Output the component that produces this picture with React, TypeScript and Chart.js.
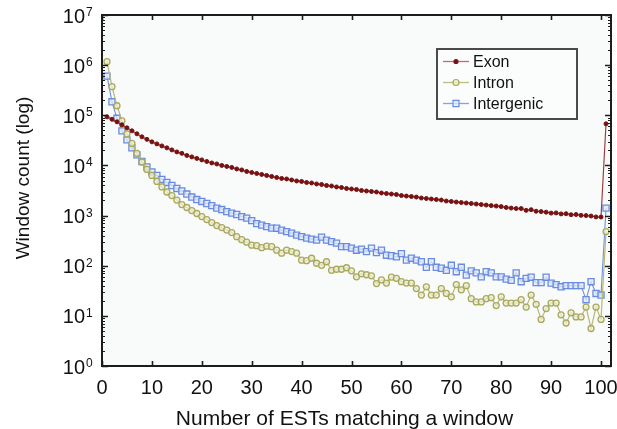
import React, { useEffect, useRef } from "react";
import { Chart, registerables } from "chart.js";

Chart.register(...registerables);

const estCounts = [
  1, 2, 3, 4, 5, 6, 7, 8, 9, 10,
  11, 12, 13, 14, 15, 16, 17, 18, 19, 20,
  21, 22, 23, 24, 25, 26, 27, 28, 29, 30,
  31, 32, 33, 34, 35, 36, 37, 38, 39, 40,
  41, 42, 43, 44, 45, 46, 47, 48, 49, 50,
  51, 52, 53, 54, 55, 56, 57, 58, 59, 60,
  61, 62, 63, 64, 65, 66, 67, 68, 69, 70,
  71, 72, 73, 74, 75, 76, 77, 78, 79, 80,
  81, 82, 83, 84, 85, 86, 87, 88, 89, 90,
  91, 92, 93, 94, 95, 96, 97, 98, 99, 100,
  101,
];

const exonCounts = [
  93000, 83200, 74100, 64600, 56200, 49000, 42700, 37200, 33100, 29500,
  26900, 24500, 22400, 20400, 18600, 17400, 15800, 14800, 13800, 12900,
  12000, 11200, 10700, 10000, 9550, 9120, 8510, 8130, 7590, 7240,
  6920, 6610, 6310, 6030, 5750, 5500, 5370, 5130, 4900, 4790,
  4570, 4470, 4270, 4170, 3980, 3890, 3720, 3630, 3470, 3390,
  3310, 3160, 3090, 3020, 2950, 2820, 2750, 2690, 2630, 2510,
  2450, 2400, 2340, 2240, 2190, 2140, 2090, 2040, 1950, 1910,
  1860, 1820, 1780, 1740, 1700, 1660, 1620, 1580, 1550, 1510,
  1450, 1410, 1380, 1380, 1270, 1310, 1220, 1200, 1170, 1120,
  1130, 1080, 1090, 1040, 1050, 1010, 1000, 980, 940, 935,
  67600,
];

const intronCounts = [
  1170000, 372000, 155000, 77600, 42700, 27500, 17400, 11700, 8320, 6310,
  4790, 3720, 2950, 2510, 2040, 1660, 1450, 1260, 1100, 955,
  832, 724, 631, 575, 513, 457, 380, 331, 295, 257,
  251, 229, 245, 240, 204, 178, 204, 191, 178, 129,
  126, 141, 112, 102, 120, 81, 85, 85, 91, 79,
  60, 69, 66, 63, 44, 52, 45, 59, 56, 48,
  45, 45, 35, 26, 38, 26, 26, 35, 28, 24,
  42, 33, 40, 22, 19, 19, 22, 23, 16, 24,
  18, 18, 18, 21, 15, 26, 17, 8.5, 14, 18,
  18, 10.5, 7.2, 11.5, 9.5, 9.5, 15, 5.6, 15, 8.5,
  479,
];

const intergenicCounts = [
  603000, 186000, 87100, 49000, 32400, 22400, 16200, 12000, 9330, 7410,
  6310, 5250, 4570, 3980, 3470, 3090, 2690, 2340, 2090, 1910,
  1740, 1580, 1410, 1320, 1200, 1120, 1050, 955, 891, 794,
  692, 646, 603, 562, 560, 513, 479, 447, 407, 380,
  355, 339, 324, 372, 324, 302, 282, 240, 240, 224,
  204, 214, 191, 224, 182, 204, 162, 158, 151, 174,
  129, 141, 129, 120, 93, 120, 93, 89, 81, 102,
  76, 93, 65, 79, 72, 60, 76, 72, 60, 60,
  54, 51, 72, 48, 56, 59, 46, 46, 59, 45,
  42, 38, 40, 40, 40, 40, 21, 48, 28, 26,
  1410,
];

const seriesNames = ["Exon", "Intron", "Intergenic"];
const xTickValues = [0, 10, 20, 30, 40, 50, 60, 70, 80, 90, 100];
const yTickExponents = [0, 1, 2, 3, 4, 5, 6, 7];
const xAxisTitle = "Number of ESTs matching a window";
const yAxisTitle = "Window count (log)";

const FONT = '"Liberation Sans", Arial, Helvetica, sans-serif';

const framePlugin = {
  id: "frameAndLabels",
  beforeDatasetsDraw(chart: any) {
    const { ctx, chartArea } = chart;
    const { left, right, top, bottom } = chartArea;
    ctx.save();
    ctx.fillStyle = "#f9fbfb";
    ctx.fillRect(left, top, right - left, bottom - top);
    ctx.restore();
  },
  afterDatasetsDraw(chart: any) {
    const { ctx, chartArea, scales } = chart;
    const { left, right, top, bottom } = chartArea;
    const xs = scales.x;
    const ys = scales.y;
    ctx.save();
    ctx.strokeStyle = "#1c1c1c";
    ctx.lineWidth = 2;
    ctx.strokeRect(left, top, right - left, bottom - top);

    ctx.lineWidth = 1.6;
    ctx.beginPath();
    for (const t of xTickValues) {
      const px = Math.round(xs.getPixelForValue(t)) + 0.5;
      ctx.moveTo(px, bottom);
      ctx.lineTo(px, bottom - 5);
      ctx.moveTo(px, top);
      ctx.lineTo(px, top + 5);
    }
    for (const e of yTickExponents) {
      const py = Math.round(ys.getPixelForValue(Math.pow(10, e))) + 0.5;
      ctx.moveTo(left, py);
      ctx.lineTo(left + 6, py);
      ctx.moveTo(right, py);
      ctx.lineTo(right - 6, py);
    }
    ctx.stroke();
    ctx.lineWidth = 1;
    ctx.beginPath();
    for (const e of yTickExponents.slice(0, -1)) {
      for (let m = 2; m <= 9; m++) {
        const py = Math.round(ys.getPixelForValue(m * Math.pow(10, e))) + 0.5;
        ctx.moveTo(left, py);
        ctx.lineTo(left + 3, py);
        ctx.moveTo(right, py);
        ctx.lineTo(right - 3, py);
      }
    }
    ctx.stroke();

    // x tick labels
    ctx.fillStyle = "#111";
    ctx.font = `20px ${FONT}`;
    ctx.textAlign = "center";
    ctx.textBaseline = "alphabetic";
    for (const t of xTickValues) {
      ctx.fillText(String(t), xs.getPixelForValue(t), bottom + 28);
    }
    // y tick labels: 10 with superscript exponent
    for (const e of yTickExponents) {
      const py = ys.getPixelForValue(Math.pow(10, e));
      ctx.font = `20px ${FONT}`;
      ctx.textAlign = "right";
      ctx.fillText("10", left - 17, py + 7.5);
      ctx.font = `12px ${FONT}`;
      ctx.textAlign = "left";
      ctx.fillText(String(e), left - 16, py + 1);
    }
    // axis titles
    ctx.font = `21px ${FONT}`;
    ctx.textAlign = "center";
    ctx.fillText(xAxisTitle, (left + right) / 2 - 12, bottom + 59);
    ctx.save();
    ctx.translate(29, 178);
    ctx.rotate(-Math.PI / 2);
    ctx.font = `19px ${FONT}`;
    ctx.fillText(yAxisTitle, 0, 0);
    ctx.restore();
    ctx.restore();
  },
  afterDraw(chart: any) {
    const { ctx, chartArea } = chart;
    const bx = chartArea.left + 335;
    const by = chartArea.top + 34;
    const bw = 140;
    const bh = 70;
    ctx.save();
    ctx.fillStyle = "#fbfcfc";
    ctx.fillRect(bx, by, bw, bh);
    ctx.strokeStyle = "#4a4a4a";
    ctx.lineWidth = 2;
    ctx.strokeRect(bx, by, bw, bh);
    chart.data.datasets.forEach((ds: any, i: number) => {
      const ry = by + 12.5 + i * 21;
      ctx.strokeStyle = ds.legendLine;
      ctx.lineWidth = 1.3;
      ctx.beginPath();
      ctx.moveTo(bx + 6, ry);
      ctx.lineTo(bx + 32, ry);
      ctx.stroke();
      const cx = bx + 19;
      ctx.fillStyle = ds.pointBackgroundColor;
      ctx.strokeStyle = ds.pointBorderColor;
      ctx.lineWidth = 1.2;
      ctx.beginPath();
      if (ds.pointStyle === "rect") {
        const s = ds.pointRadius * Math.SQRT1_2;
        ctx.rect(cx - s, ry - s, 2 * s, 2 * s);
      } else {
        ctx.arc(cx, ry, ds.pointRadius, 0, Math.PI * 2);
      }
      ctx.fill();
      ctx.stroke();
      ctx.fillStyle = "#111";
      ctx.font = `16px ${FONT}`;
      ctx.textAlign = "left";
      ctx.textBaseline = "middle";
      ctx.fillText(ds.label, bx + 36, ry + 1);
    });
    ctx.restore();
  },
};

export default function App() {
  const canvasRef = useRef<HTMLCanvasElement | null>(null);

  useEffect(() => {
    document.body.style.margin = "0";
    const canvas = canvasRef.current;
    if (!canvas) return;
    const toPoints = (vals: number[]) => estCounts.map((x, i) => ({ x, y: vals[i] }));
    const chart = new Chart(canvas, {
      type: "line",
      data: {
        datasets: [
          {
            label: seriesNames[0],
            data: toPoints(exonCounts),
            borderColor: "#9c4040",
            borderWidth: 1.2,
            pointRadius: 2,
            pointBorderWidth: 1,
            pointBackgroundColor: "#781212",
            pointBorderColor: "#781212",
            pointStyle: "circle",
            legendLine: "#b87070",
          } as any,
          {
            label: seriesNames[1],
            data: toPoints(intronCounts),
            borderColor: "#b8b872",
            borderWidth: 1.2,
            pointRadius: 3,
            pointBorderWidth: 1.3,
            pointBackgroundColor: "rgba(238,238,212,0.75)",
            pointBorderColor: "#a9a95e",
            pointStyle: "circle",
            legendLine: "#bcbc84",
          } as any,
          {
            label: seriesNames[2],
            data: toPoints(intergenicCounts),
            borderColor: "#7090e0",
            borderWidth: 1.1,
            pointRadius: 4.3,
            pointBorderWidth: 1.3,
            pointBackgroundColor: "rgba(226,233,250,0.75)",
            pointBorderColor: "#6a8ce0",
            pointStyle: "rect",
            legendLine: "#8aa2e4",
          } as any,
        ],
      },
      options: {
        responsive: false,
        animation: false,
        devicePixelRatio: 1,
        layout: { padding: { left: 102, top: 15, right: 6, bottom: 63 } },
        scales: {
          x: { type: "linear", min: 0, max: 102, display: false },
          y: { type: "logarithmic", min: 1, max: 1e7, display: false },
        },
        plugins: {
          legend: { display: false },
          tooltip: { enabled: false },
        },
        elements: { line: { tension: 0 } },
      },
      plugins: [framePlugin],
    });
    return () => chart.destroy();
  }, []);

  return (
    <div style={{ width: 617, height: 429, background: "#fff" }}>
      <canvas ref={canvasRef} width={617} height={429} style={{ width: 617, height: 429, display: "block" }} />
    </div>
  );
}
